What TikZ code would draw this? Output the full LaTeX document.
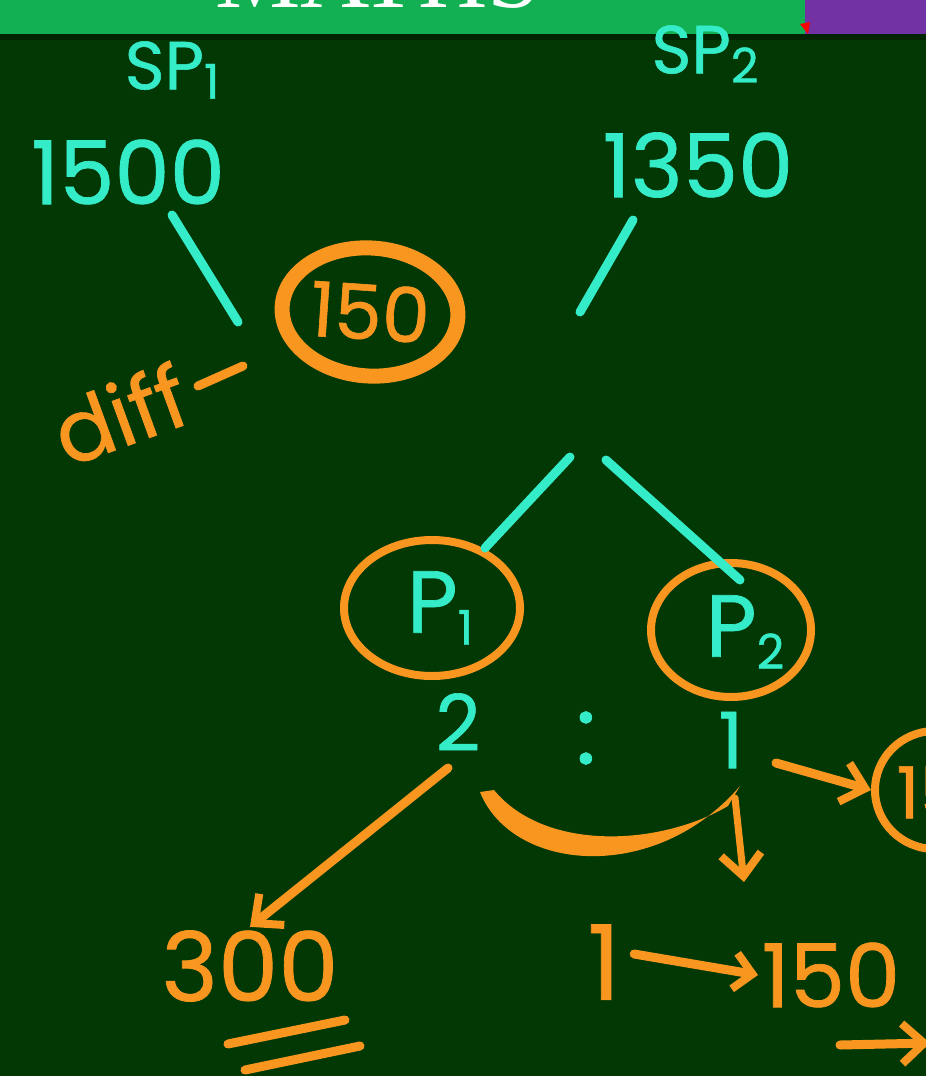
\documentclass[tikz,border=0pt]{standalone}
\usepackage{fontspec}
\setmainfont{Poppins}[UprightFeatures={FakeBold=0.8}]
\newfontfamily\titlefont{Liberation Serif}
\usetikzlibrary{shapes.geometric,arrows.meta}
\definecolor{board}{RGB}{2,56,4}
\definecolor{chalkcyan}{RGB}{52,236,200}
\definecolor{chalkorange}{RGB}{248,150,32}
\definecolor{bargreen}{RGB}{18,176,82}
\definecolor{barpurple}{RGB}{114,50,164}
\newcommand{\lowsub}[1]{\raisebox{-0.25ex}{\fontsize{48}{48}\selectfont #1}}
\tikzset{
  cy/.style={text=chalkcyan},
  org/.style={text=chalkorange},
  big/.style={font=\fontsize{88}{88}\selectfont},
  mid/.style={font=\fontsize{68}{68}\selectfont},
  cyline/.style={draw=chalkcyan, line width=9pt, line cap=round},
  orline/.style={draw=chalkorange, line width=9pt, line cap=round, line join=round},
  barb/.style={-{Straight Barb[length=22pt,width=40pt,line width=8pt]}},
  ring/.style={ellipse, draw=chalkorange, inner sep=0pt},
}
\begin{document}
\begin{tikzpicture}[x=1pt,y=-1pt]
\useasboundingbox (0,0) rectangle (926,1076);
\clip (0,0) rectangle (926,1076);
\fill[board] (0,0) rectangle (926,1076);
% top bar
\fill[bargreen] (0,0) rectangle (805,34);
\fill[barpurple] (805,0) rectangle (926,34);
\fill[red] (800,24) -- (810,22) -- (808,34) -- cycle;
\begin{scope}
\clip (0,0) rectangle (805,34);
\node[text=white, font=\titlefont\fontsize{96}{96}\selectfont, anchor=base, inner sep=0pt] (title) at (378,7) {MATHS};
\end{scope}
\fill[black, opacity=0.35] (0,34) rectangle (926,40);

% selling prices
\node[cy, mid] (sp1) at (172,70) {SP\lowsub{1}};
\node[cy, big] (n1500) at (128,172) {1500};
\node[cy, mid] (sp2) at (705,54) {SP\lowsub{2}};
\node[cy, big] (n1350) at (698,165) {1350};

\coordinate (l1a) at (172,215);
\coordinate (l1b) at (238,322);
\coordinate (r1a) at (633,220);
\coordinate (r1b) at (580,312);
\draw[cyline] (l1a) -- (l1b);
\draw[cyline] (r1a) -- (r1b);

% difference
\node[ring, line width=15pt, minimum width=176pt, minimum height=128pt, org, font=\fontsize{76}{76}\selectfont, rotate=-4] (d150) at (370,312) {150};
\node[org, font=\fontsize{86}{86}\selectfont, rotate=20] (diff) at (120,414) {diff};
\coordinate (dsa) at (198,386);
\coordinate (dsb) at (243,366);
\draw[orline] (dsa) -- (dsb);

% branches to P1, P2
\coordinate (bl) at (570,457);
\coordinate (br) at (606,460);
\node[ring, line width=8pt, minimum width=176pt, minimum height=136pt] (p1) at (432,608) {};
\node[ring, line width=8pt, minimum width=160pt, minimum height=134pt] (p2) at (731,630) {};
\node[cy, big] (p1t) at (440,608) {P\lowsub{1}};
\node[cy, big] (p2t) at (745,632) {P\lowsub{2}};
\coordinate (p1top) at (485,548);
\coordinate (p2top) at (740,580);
\draw[cyline] (bl) -- (p1top);
\draw[cyline] (br) -- (p2top);

% ratio
\node[cy, font=\fontsize{78}{78}\selectfont] (r2) at (458,722) {2};
\node[cy, font=\fontsize{96}{96}\selectfont] (rc) at (586,738) {:};
\node[cy, font=\fontsize{78}{78}\selectfont] (r1) at (731,740) {1};

% arrows
\coordinate (a1s) at (448,768);
\node[org, font=\fontsize{96}{96}\selectfont] (n300) at (250,966) {300};
\draw[orline, barb] (a1s) -- (n300.north);
\coordinate (ul1a) at (228,1044);
\coordinate (ul1b) at (345,1020);
\coordinate (ul2a) at (245,1070);
\coordinate (ul2b) at (360,1046);
\draw[orline] (ul1a) -- (ul1b);
\draw[orline] (ul2a) -- (ul2b);

% swoosh
\fill[chalkorange] (480,792) .. controls (512,872) and (655,885) .. (740,786)
   -- (728,806) .. controls (660,846) and (545,852) .. (494,790) -- cycle;

\coordinate (dna) at (735,798);
\coordinate (dnb) at (744,882);
\draw[orline, line width=7pt, barb] (dna) -- (dnb);

% right partial ring
\node[ring, line width=8pt, minimum width=120pt, minimum height=118pt] (pr) at (935,790) {};
\node[org, font=\fontsize{72}{72}\selectfont, anchor=west] (prt) at (893,792) {150};
\coordinate (ra) at (776,763);
\draw[orline, barb] (ra) -- (pr.west);

% 1 -> 150
\node[org, font=\fontsize{104}{104}\selectfont] (one) at (604,962) {1};
\node[org, font=\fontsize{88}{88}\selectfont, anchor=west] (n150) at (758,975) {150};
\draw[orline, -{Straight Barb[length=18pt,width=36pt,line width=8pt]}] (one.east) ++(10,-8) -- (n150.west);
\coordinate (ua) at (840,1045);
\coordinate (ub) at (930,1043);
\draw[orline, barb] (ua) -- (ub);
\end{tikzpicture}
\end{document}
